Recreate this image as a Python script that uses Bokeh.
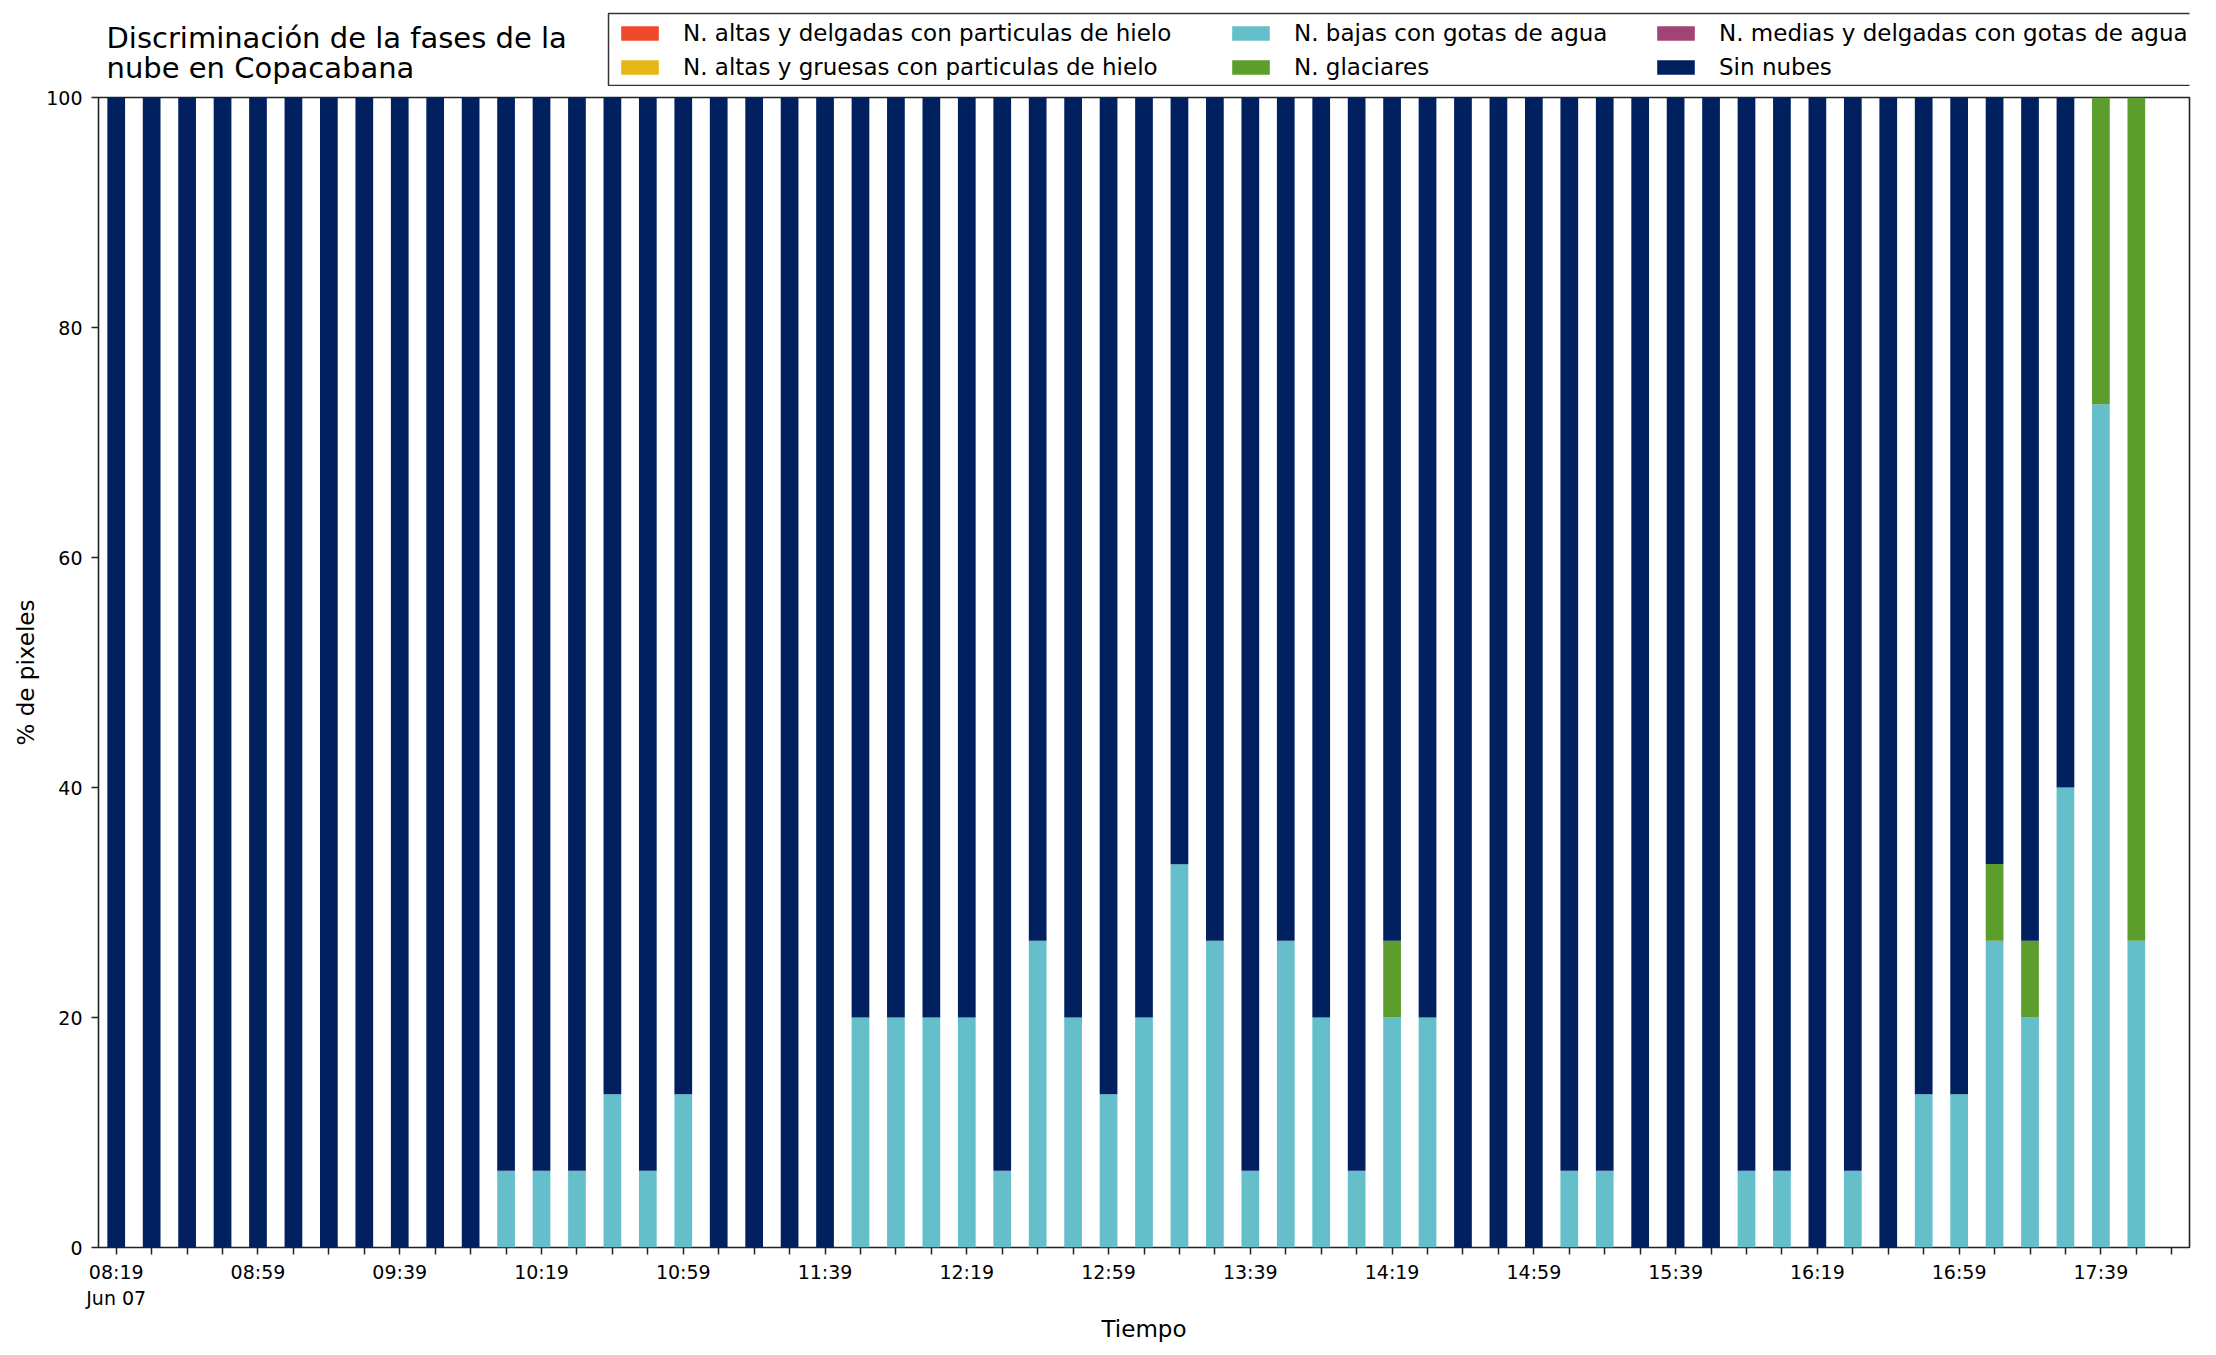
from bokeh.plotting import figure
from bokeh.models import ColumnDataSource, FixedTicker, Label, Legend, BoxAnnotation
from bokeh.layouts import column
from bokeh.embed import file_html
from bokeh.resources import INLINE

times = ["08:19", "08:29", "08:39", "08:49", "08:59", "09:09", "09:19", "09:29", "09:39", "09:49",
         "09:59", "10:09", "10:19", "10:29", "10:39", "10:49", "10:59", "11:09", "11:19", "11:29",
         "11:39", "11:49", "11:59", "12:09", "12:19", "12:29", "12:39", "12:49", "12:59", "13:09",
         "13:19", "13:29", "13:39", "13:49", "13:59", "14:09", "14:19", "14:29", "14:39", "14:49",
         "14:59", "15:09", "15:19", "15:29", "15:39", "15:49", "15:59", "16:09", "16:19", "16:29",
         "16:39", "16:49", "16:59", "17:09", "17:19", "17:29", "17:39", "17:49", "17:59"]
date_label = "Jun 07"

altas_delgadas = [0] * 59
altas_gruesas = [0] * 59
medias_delgadas = [0] * 59
bajas = [0, 0, 0, 0, 0, 0, 0, 0, 0, 0,
         0, 6.67, 6.67, 6.67, 13.33, 6.67, 13.33, 0, 0, 0,
         0, 20, 20, 20, 20, 6.67, 26.67, 20, 13.33, 20,
         33.33, 26.67, 6.67, 26.67, 20, 6.67, 20, 20, 0, 0,
         0, 6.67, 6.67, 0, 0, 0, 6.67, 6.67, 0, 6.67,
         0, 13.33, 13.33, 26.67, 20, 40, 73.33, 26.67, 0]
glaciares = [0, 0, 0, 0, 0, 0, 0, 0, 0, 0,
             0, 0, 0, 0, 0, 0, 0, 0, 0, 0,
             0, 0, 0, 0, 0, 0, 0, 0, 0, 0,
             0, 0, 0, 0, 0, 0, 6.67, 0, 0, 0,
             0, 0, 0, 0, 0, 0, 0, 0, 0, 0,
             0, 0, 0, 6.67, 6.67, 0, 26.67, 73.33, 0]
sin_nubes = [100, 100, 100, 100, 100, 100, 100, 100, 100, 100,
             100, 93.33, 93.33, 93.33, 86.67, 93.33, 86.67, 100, 100, 100,
             100, 80, 80, 80, 80, 93.33, 73.33, 80, 86.67, 80,
             66.67, 73.33, 93.33, 73.33, 80, 93.33, 73.33, 80, 100, 100,
             100, 93.33, 93.33, 100, 100, 100, 93.33, 93.33, 100, 93.33,
             100, 86.67, 86.67, 66.67, 73.33, 60, 0, 0, 0]

series_names = ["N. altas y delgadas con particulas de hielo",
                "N. altas y gruesas con particulas de hielo",
                "N. bajas con gotas de agua",
                "N. glaciares",
                "N. medias y delgadas con gotas de agua",
                "Sin nubes"]
colors = ["#f0482b", "#e5b817", "#64bfca", "#5c9e2b", "#a14473", "#002060"]
yticks = [0, 20, 40, 60, 80, 100]
title_lines = ["Discriminación de la fases de la", "nube en Copacabana"]

keys = ["a", "b", "c", "d", "e", "f"]
src = ColumnDataSource(dict(x=list(range(len(times))), a=altas_delgadas, b=altas_gruesas,
                            c=bajas, d=glaciares, e=medias_delgadas, f=sin_nubes))

FONT = "DejaVu Sans"
W = 2200
TOP_H = 86

# ---------- header figure: title + legend ----------
top = figure(width=W, height=TOP_H, output_backend="svg", toolbar_location=None,
             x_range=(1000, 2000), y_range=(1000, 2000), x_axis_type=None, y_axis_type=None,
             min_border=0)
top.outline_line_color = None
top.xgrid.grid_line_color = None
top.ygrid.grid_line_color = None
top.border_fill_color = "white"
top.background_fill_color = "white"

top.add_layout(Label(x=8, y=49, x_units="screen", y_units="screen", text=title_lines[0],
                     text_font=FONT, text_font_size="29px", text_color="black",
                     text_baseline="alphabetic"))
top.add_layout(Label(x=8, y=19, x_units="screen", y_units="screen", text=title_lines[1],
                     text_font=FONT, text_font_size="29px", text_color="black",
                     text_baseline="alphabetic"))

# legend proxies (same data, outside the header's visible range)
proxies = []
for k, c in zip(keys, colors):
    proxies.append(top.vbar(x="x", top=k, width=0.5, source=src, color=c, line_color=None))

top.add_layout(BoxAnnotation(left=510, right=2097, bottom=1, top=73,
                             left_units="screen", right_units="screen",
                             bottom_units="screen", top_units="screen",
                             fill_alpha=0, line_color="#333333", line_alpha=1.0,
                             line_width=1.5))

col_x = [518, 1129, 1554]
for ci in range(3):
    lg = Legend(items=[(series_names[2 * ci + j], [proxies[2 * ci + j]]) for j in range(2)],
                location=(col_x[ci], 6))
    lg.label_text_font = FONT
    lg.label_text_font_size = "23px"
    lg.label_text_color = "black"
    lg.glyph_width = 47
    lg.glyph_height = 18
    lg.label_standoff = 20
    lg.spacing = 8
    lg.padding = 0
    lg.margin = 0
    lg.border_line_color = None
    lg.background_fill_alpha = 0
    top.add_layout(lg, "center")

# ---------- main chart ----------
p = figure(width=W, height=1258, output_backend="svg", toolbar_location=None,
           x_range=(-0.5, len(times) - 0.5), y_range=(0, 100),
           min_border_left=98, min_border_right=11, min_border_top=11, min_border_bottom=95)

renderers = p.vbar_stack(keys, x="x", width=0.5, source=src, color=colors, line_color=None)

p.xaxis.ticker = FixedTicker(ticks=list(range(len(times))))
overrides = {}
for i, t in enumerate(times):
    if i % 4 == 0:
        overrides[i] = t + ("\n" + date_label if i == 0 else "")
    else:
        overrides[i] = ""
p.xaxis.major_label_overrides = overrides
p.yaxis.ticker = FixedTicker(ticks=yticks)
for ax in (p.xaxis, p.yaxis):
    ax.major_label_text_font = FONT
    ax.major_label_text_font_size = "19px"
    ax.major_label_text_color = "black"
    ax.axis_label_text_font = FONT
    ax.axis_label_text_font_size = "23px"
    ax.axis_label_text_font_style = "normal"
    ax.axis_label_text_color = "black"
    ax.major_tick_in = 0
    ax.major_tick_out = 7
    ax.major_tick_line_width = 1.5
    ax.major_tick_line_color = "#222222"
    ax.minor_tick_line_color = None
    ax.axis_line_color = None
p.xaxis.axis_label = "Tiempo"
p.yaxis.axis_label = "% de pixeles"
p.xaxis.major_label_standoff = 6
p.yaxis.major_label_standoff = 9
p.xaxis.axis_label_standoff = 4
p.yaxis.axis_label_standoff = 4

p.xgrid.grid_line_color = None
p.ygrid.grid_line_color = None
p.outline_line_color = "#222222"
p.outline_line_width = 1.6
p.background_fill_color = "white"
p.border_fill_color = "white"

layout = column(top, p, spacing=0)
open("out.html", "w").write(file_html(layout, INLINE))
